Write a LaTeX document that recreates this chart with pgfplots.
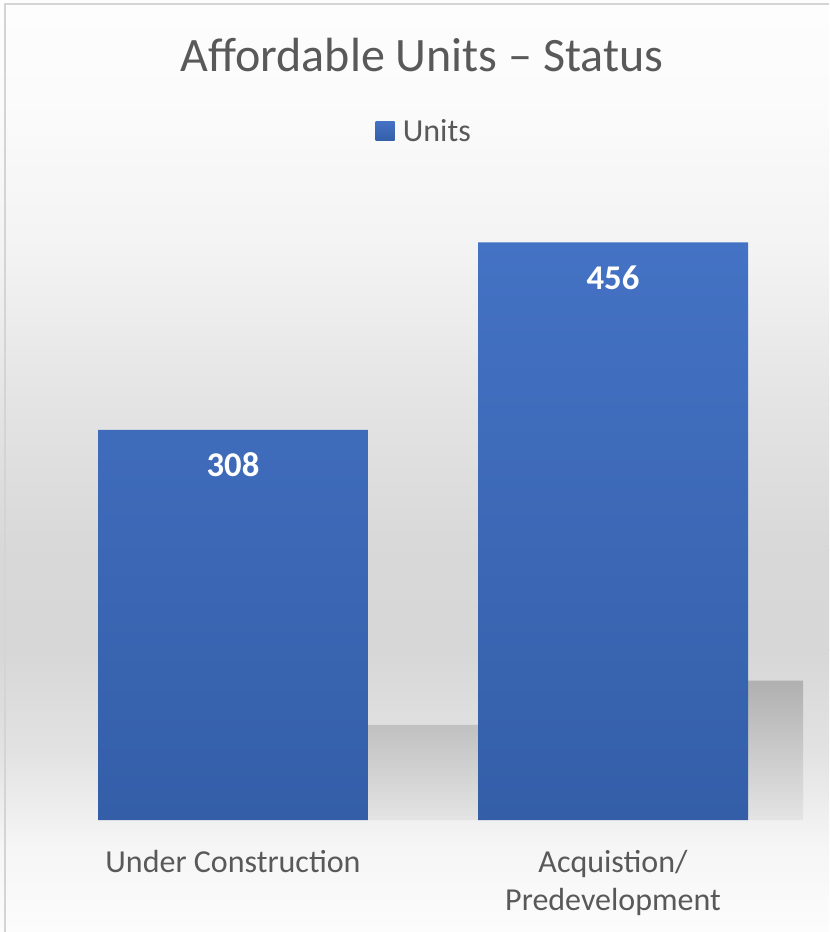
\documentclass[border=0pt]{standalone}
\usepackage{pgfplots}
\pgfplotsset{compat=1.18}
\usepackage{fontspec}
\setmainfont{Carlito}
\definecolor{txt}{RGB}{89,89,89}
\definecolor{barTop}{RGB}{68,114,196}
\definecolor{barBot}{RGB}{52,94,168}
\definecolor{shTop}{RGB}{176,176,176}
\definecolor{shMid}{RGB}{184,184,184}
\definecolor{shBot}{RGB}{228,228,228}
\definecolor{frame}{RGB}{212,212,212}
\definecolor{g253}{RGB}{253,253,253}
\definecolor{g251}{RGB}{251,251,251}
\definecolor{g243}{RGB}{243,243,243}
\definecolor{g228}{RGB}{228,228,228}
\definecolor{g216}{RGB}{216,216,216}
\definecolor{g215}{RGB}{215,215,215}
\definecolor{g226}{RGB}{226,226,226}
\definecolor{g236}{RGB}{236,236,236}
\definecolor{g246}{RGB}{246,246,246}
\definecolor{g252}{RGB}{252,252,252}
\begin{document}
\begin{tikzpicture}[x=0.75pt,y=0.75pt]
% background gradient (y up; image row y -> 932-y)
\shade[top color=g253,bottom color=g251] (0,831.5) rectangle (829,932);
\shade[top color=g251,bottom color=g243] (0,681.5) rectangle (829,832);
\shade[top color=g243,bottom color=g228] (0,531.5) rectangle (829,682);
\shade[top color=g228,bottom color=g216] (0,381.5) rectangle (829,532);
\shade[top color=g216,bottom color=g215] (0,281.5) rectangle (829,382);
\shade[top color=g215,bottom color=g226] (0,181.5) rectangle (829,282);
\shade[top color=g226,bottom color=g236] (0,131.5) rectangle (829,182);
\shade[top color=g236,bottom color=g246] (0,81.5) rectangle (829,132);
\shade[top color=g246,bottom color=g252] (0,0) rectangle (829,82);
\draw[frame,line width=1.5pt] (4.5,0) -- (4.5,927.5) -- (829,927.5);
\node[anchor=base,font=\fontsize{36}{43}\selectfont,text=txt,inner sep=0pt] at (422,860) {Affordable Units – Status};
\begin{axis}[
  at={(32.25pt,84pt)}, anchor=south west,
  scale only axis, width=570pt, height=475.1pt,
  xmin=-0.5, xmax=1.5, ymin=0, ymax=500,
  axis line style={draw=none}, tick style={draw=none},
  ytick=\empty, xtick={0,1},
  xticklabels={Under Construction,{Acquistion/\\Predevelopment}},
  xticklabel style={align=center,font=\fontsize{24}{28.5}\selectfont,text=txt,inner sep=0pt,anchor=north,yshift=-18.5pt},
  /pgf/number format/assume math mode=true,
  ybar,
  legend style={at={(0.502,1.0876)},anchor=center,draw=none,fill=none,font=\fontsize{24}{28}\selectfont,text=txt},
  legend image code/.code={\path[#1,draw=none] (0pt,-7.1pt) rectangle (14.25pt,7.1pt);\path (18.5pt,0pt);},
]
\addplot[ybar,forget plot,draw=none,bar width=0.316,bar shift=0.513,top color=shTop,middle color=shMid,bottom color=shBot] coordinates {(0,75) (1,110)};
\addplot[ybar,draw=none,bar width=0.7105,bar shift=0,top color=barTop,bottom color=barBot,
  nodes near coords,
  every node near coord/.append style={anchor=north,inner sep=0pt,yshift=-17.25pt,font=\bfseries\fontsize{26}{30}\selectfont,text=white}] coordinates {(0,308) (1,456)};
\addlegendentry{Units}
\end{axis}
\pgfresetboundingbox
\path (0,0) rectangle (829,932);
\end{tikzpicture}
\end{document}
